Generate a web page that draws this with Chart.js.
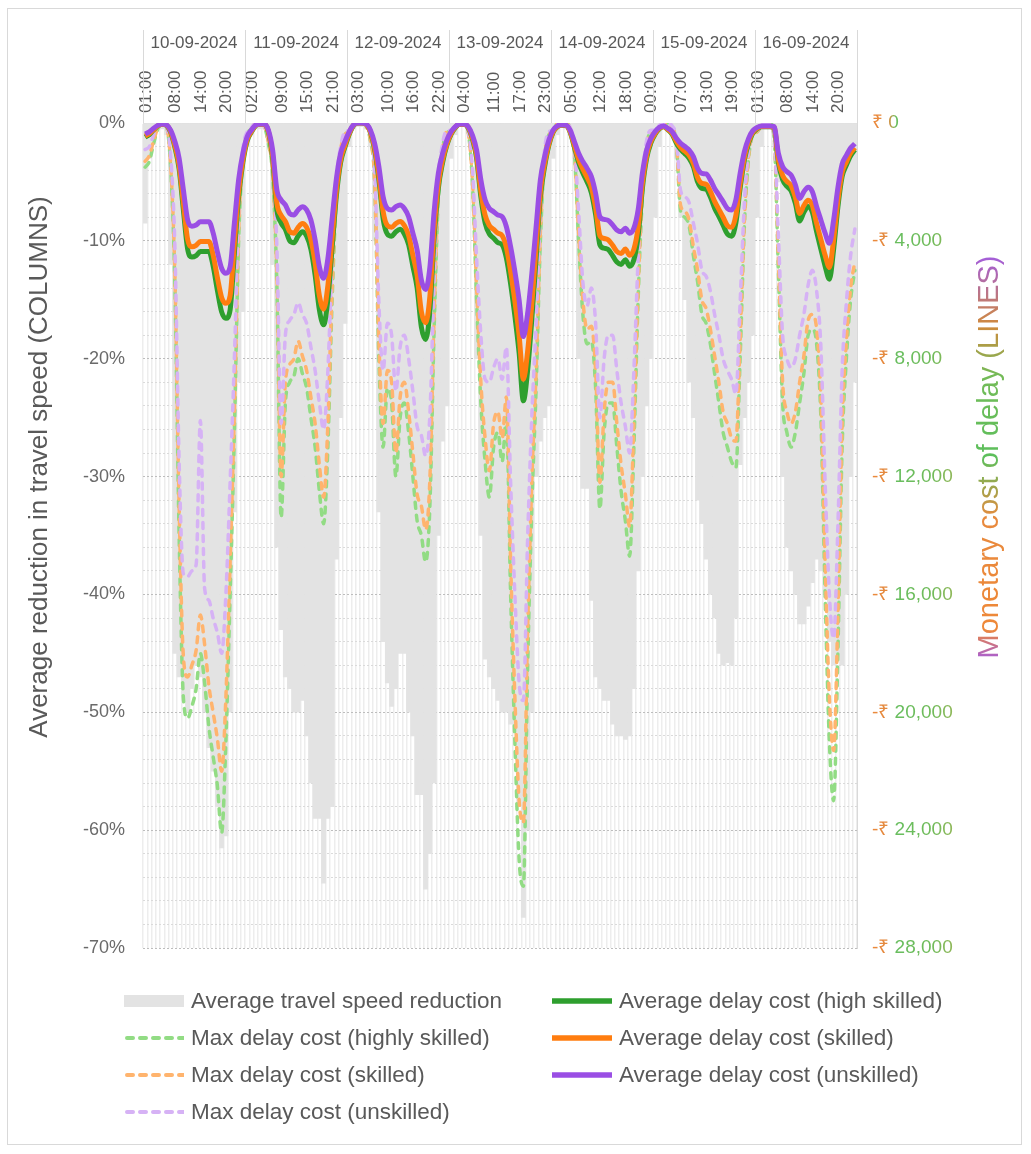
<!DOCTYPE html>
<html>
<head>
<meta charset="utf-8">
<script src="https://cdn.jsdelivr.net/npm/chart.js@4.4.1/dist/chart.umd.min.js"></script>
<style>
  body { margin: 0; background: #fff; }
  #wrap { position: relative; width: 1031px; height: 1154px; font-family: "Liberation Sans", Arial, sans-serif; }
  #frame { position: absolute; left: 7px; top: 8px; width: 1015px; height: 1137px; border: 1px solid #d9d9d9; box-sizing: border-box; }
  #myChart { position: absolute; left: 0; top: 0; }
  .item { position: absolute; display: flex; align-items: center; font-size: 22.5px; color: #595959; white-space: nowrap; height: 30px; }
  .item svg { margin-right: 7px; }
</style>
</head>
<body>
<div id="wrap">
  <div id="frame"></div>
  <canvas id="myChart" width="1031" height="1154"></canvas>
  <div id="legend"></div>
</div>
<script>
var days = ['10-09-2024', '11-09-2024', '12-09-2024', '13-09-2024', '14-09-2024', '15-09-2024', '16-09-2024'];
var hours = ['00:00', '01:00', '02:00', '03:00', '04:00', '05:00', '06:00', '07:00', '08:00', '09:00', '10:00', '11:00',
             '12:00', '13:00', '14:00', '15:00', '16:00', '17:00', '18:00', '19:00', '20:00', '21:00', '22:00', '23:00'];
// hours that get a label on the top axis, one list per day
var shownHours = [[1, 8, 14, 20], [2, 9, 15, 21], [3, 10, 16, 22], [4, 11, 17, 23], [5, 12, 18], [0, 7, 13, 19], [1, 8, 14, 20]];

// % reduction in travel speed (columns)
var speedReduction = [
  -8.5, -3, -1, -0.5, -0.5, -1, -12, -45, -47, -49, -50, -48, -46, -47, -50, -53, -55, -58, -61.5, -60.5, -50, -33, -22, -16,
  -2, -1, -0.5, -0.5, -0.5, -1.5, -12, -36, -43, -47, -48, -50, -50, -49, -52, -56, -59, -59, -64.5, -59, -58, -37, -25, -17,
  -2, -0.5, -0.3, -0.3, -0.5, -2, -10, -33, -44, -47.5, -49.5, -48, -45, -45, -50, -52, -57, -57, -65, -62, -56, -35, -27, -24,
  -3, -1, -0.3, -0.3, -0.5, -2, -20, -35, -45.5, -47, -48, -49, -50, -50, -51, -51.7, -58, -67.4, -60, -50, -30, -27, -25, -24,
  -3, -1, -0.3, -0.5, -1, -3, -20, -31, -31, -40.5, -47, -48, -49, -49, -51, -52, -52, -52.3, -52, -48, -38, -30, -24, -20,
  -8, -2, -0.5, -0.5, -1, -3, -8, -15, -22, -25, -32, -34, -37, -40, -42, -45, -46, -45.8, -46, -42, -29, -25, -22, -18,
  -8, -2, -0.5, -0.5, -1, -5, -30, -36, -38, -40, -42.5, -42.5, -41, -39, -37, -38, -40, -44, -46, -45, -46, -40, -30, -22
];

// monetary cost of delay in rupees (lines)
var avgHighSkilled = [
  -480, -390, -230, -100, -40, -80, -310, -820, -1560, -2950, -4280, -4550, -4500, -4360, -4360, -4360, -4850, -5680, -6410, -6630, -6340, -4420, -2510, -1340,
  -610, -310, -90, -40, -40, -310, -1200, -2950, -3390, -3610, -3990, -4060, -3840, -3690, -3840, -4280, -5160, -6340, -6850, -5980, -4230, -2470, -1340, -820,
  -390, -90, 0, 0, -40, -310, -900, -1920, -3250, -3770, -3840, -3690, -3610, -3770, -4130, -4860, -5600, -6930, -7350, -6370, -3900, -2210, -1340, -750,
  -380, -160, -40, -40, -160, -530, -1200, -2510, -3390, -3770, -3910, -4060, -4130, -4580, -5460, -6550, -7810, -9430, -8400, -6630, -4580, -2510, -1480, -750,
  -310, -130, -80, -90, -310, -820, -1340, -1700, -2000, -2370, -3110, -4130, -4250, -4300, -4500, -4720, -4800, -4640, -4860, -4640, -3840, -2220, -1200, -680,
  -380, -200, -130, -230, -380, -680, -900, -1040, -1200, -1480, -2000, -2220, -2250, -2510, -2890, -3170, -3470, -3770, -3840, -3390, -2220, -1260, -680, -340,
  -200, -130, -130, -130, -160, -1340, -1920, -2150, -2300, -2730, -3330, -3030, -2830, -3030, -3690, -4280, -4860, -5300, -4290, -2860, -1820, -1430, -1110, -910
];
var maxHighSkilled = [
  -1500, -1300, -700, -200, 0, -100, -1500, -5500, -14000, -19500, -20200, -19800, -19200, -18000, -19000, -20500, -21500, -22500, -24100, -21000, -16000, -10500, -4000, -1200,
  -400, -200, 0, 0, -100, -700, -1800, -5500, -13400, -9500, -8800, -8600, -8000, -8500, -9000, -10000, -11000, -12500, -13600, -11000, -6000, -2500, -1000, -400,
  -300, -100, 0, 0, -100, -600, -2000, -8000, -11000, -9000, -9500, -12000, -10000, -9500, -10500, -12000, -13500, -14000, -14900, -13000, -7000, -2500, -900, -300,
  -300, -100, 0, 0, -300, -2000, -6000, -9500, -11500, -12700, -11000, -10500, -11500, -10000, -16000, -21000, -25000, -25900, -18500, -13000, -9000, -4000, -1200, -400,
  -300, 0, 0, 0, -200, -1000, -4000, -6500, -7500, -7400, -9000, -13100, -10500, -9500, -9500, -11000, -12500, -13500, -14700, -11000, -6000, -2500, -800, -300,
  -300, -100, 0, 0, -150, -700, -3000, -3200, -3500, -4500, -5400, -6500, -6800, -7500, -8500, -9500, -10500, -11000, -11500, -11700, -8000, -3500, -1200, -400,
  -300, -100, 0, 0, -500, -5000, -9500, -10500, -11000, -10500, -9500, -8500, -7200, -7000, -7500, -10000, -16000, -21000, -23000, -18000, -11000, -8000, -6000, -5000
];
var avgSkilled = [
  -440, -360, -220, -100, -40, -70, -290, -760, -1440, -2720, -3950, -4200, -4150, -4020, -4020, -4020, -4480, -5240, -5920, -6120, -5860, -4080, -2320, -1240,
  -560, -290, -80, -40, -40, -290, -1100, -2720, -3130, -3340, -3680, -3740, -3540, -3410, -3540, -3950, -4760, -5860, -6320, -5520, -3900, -2280, -1240, -760,
  -360, -80, 0, 0, -40, -290, -830, -1780, -3000, -3480, -3540, -3410, -3340, -3480, -3820, -4490, -5170, -6400, -6780, -5880, -3600, -2040, -1240, -700,
  -350, -140, -40, -40, -140, -490, -1100, -2320, -3130, -3480, -3610, -3740, -3820, -4220, -5040, -6050, -7210, -8700, -7750, -6120, -4220, -2320, -1370, -700,
  -290, -120, -70, -80, -290, -760, -1240, -1570, -1850, -2180, -2870, -3820, -3920, -3970, -4150, -4360, -4430, -4280, -4490, -4280, -3540, -2050, -1100, -620,
  -350, -180, -120, -220, -350, -620, -830, -960, -1100, -1370, -1850, -2050, -2080, -2320, -2660, -2930, -3200, -3480, -3540, -3130, -2050, -1160, -620, -310,
  -180, -120, -120, -120, -140, -1240, -1780, -1980, -2120, -2520, -3070, -2800, -2620, -2800, -3410, -3950, -4490, -4900, -3960, -2640, -1680, -1320, -1020, -840
];
var maxSkilled = [
  -1300, -1100, -600, -150, 0, -100, -1400, -5100, -13000, -18100, -18800, -18400, -17900, -16700, -17700, -19100, -20000, -20900, -22000, -19500, -14900, -9800, -3700, -1100,
  -400, -200, 0, 0, -100, -650, -1700, -5100, -12000, -8800, -8200, -8000, -7400, -7900, -8400, -9300, -10200, -11600, -12700, -10200, -5600, -2300, -900, -400,
  -300, -100, 0, 0, -100, -550, -1900, -7400, -10200, -8400, -8800, -11200, -9300, -8800, -9800, -11200, -12600, -13000, -13800, -12100, -6500, -2300, -850, -300,
  -300, -100, 0, 0, -300, -1900, -5600, -8800, -10700, -11800, -10200, -9800, -10700, -9300, -14900, -19500, -23000, -23750, -17200, -12100, -8400, -3700, -1100, -400,
  -300, 0, 0, 0, -200, -900, -3700, -6000, -7000, -6900, -8400, -12200, -9800, -8800, -8800, -10200, -11600, -12600, -13700, -10200, -5600, -2300, -750, -300,
  -300, -100, 0, 0, -150, -650, -2800, -3000, -3300, -4200, -5000, -6000, -6300, -7000, -7900, -8800, -9800, -10200, -10700, -10800, -7400, -3300, -1100, -400,
  -300, -100, 0, 0, -450, -4600, -8800, -9800, -10200, -9800, -8800, -7900, -6700, -6500, -7000, -9300, -14900, -19500, -21300, -16700, -10200, -7400, -5600, -4700
];
var avgUnskilled = [
  -370, -300, -180, -80, -30, -60, -240, -630, -1200, -2270, -3290, -3500, -3460, -3350, -3350, -3350, -3730, -4370, -4930, -5100, -4880, -3400, -1930, -1030,
  -470, -240, -70, -30, -30, -240, -920, -2270, -2610, -2780, -3070, -3120, -2950, -2840, -2950, -3290, -3970, -4880, -5270, -4600, -3250, -1900, -1030, -630,
  -300, -70, 0, 0, -30, -240, -690, -1480, -2500, -2900, -2950, -2840, -2780, -2900, -3180, -3740, -4310, -5330, -5650, -4900, -3000, -1700, -1030, -580,
  -290, -120, -30, -30, -120, -410, -920, -1930, -2610, -2900, -3010, -3120, -3180, -3520, -4200, -5040, -6010, -7250, -6460, -5100, -3520, -1930, -1140, -580,
  -240, -100, -60, -70, -240, -630, -1030, -1310, -1540, -1820, -2390, -3180, -3270, -3310, -3460, -3630, -3690, -3570, -3740, -3570, -2950, -1710, -920, -520,
  -290, -150, -100, -180, -290, -520, -690, -800, -920, -1140, -1540, -1710, -1730, -1930, -2220, -2440, -2670, -2900, -2950, -2610, -1710, -970, -520, -260,
  -150, -100, -100, -100, -120, -1030, -1480, -1650, -1770, -2100, -2560, -2330, -2180, -2330, -2840, -3290, -3740, -4080, -3300, -2200, -1400, -1100, -850, -700
];
var maxUnskilled = [
  -900, -800, -400, -100, 0, -100, -1100, -4200, -11500, -15300, -15400, -15200, -15000, -10100, -15800, -16200, -16800, -17300, -18000, -16000, -12200, -8000, -3000, -900,
  -300, -150, 0, 0, -100, -500, -1400, -4200, -10200, -7200, -6700, -6500, -6100, -6500, -6800, -7600, -8400, -9500, -10400, -8400, -4600, -1900, -800, -300,
  -250, -80, 0, 0, -80, -450, -1500, -6100, -8400, -6800, -7200, -9100, -7600, -7200, -8000, -9100, -10300, -10600, -11300, -9900, -5300, -1900, -700, -250,
  -250, -80, 0, 0, -250, -1500, -4600, -7200, -8700, -8800, -8300, -8000, -8700, -7600, -12200, -16000, -19000, -19600, -14100, -9900, -6800, -3000, -900, -300,
  -250, 0, 0, 0, -150, -750, -3000, -5400, -6200, -5600, -6800, -10000, -8000, -7200, -7200, -8400, -9500, -10300, -11200, -8400, -4600, -1900, -600, -250,
  -250, -80, 0, 0, -100, -500, -2300, -2500, -2700, -3400, -4100, -5000, -5200, -5700, -6500, -7200, -8000, -8400, -8700, -9200, -6100, -2700, -900, -300,
  -250, -80, 0, 0, -400, -3800, -7200, -8000, -8300, -8000, -7200, -6500, -5500, -5000, -5700, -7600, -12200, -16000, -17500, -13700, -8400, -6100, -4500, -3600
];

var leftTitle = 'Average reduction in travel speed (COLUMNS)';
var rightTitle = 'Monetary cost of delay (LINES)';

var labels = [];
days.forEach(function (d) {
  hours.forEach(function (h) { labels.push(d + ' ' + h); });
});

Chart.defaults.font.family = '"Liberation Sans", Arial, sans-serif';

var ctx = document.getElementById('myChart').getContext('2d');

// secondary axis text is a blend of the line colours; tick text is drawn from its own origin
var tickGrad = ctx.createLinearGradient(0, 0, 80, 0);
tickGrad.addColorStop(0, '#ec8a3c');
tickGrad.addColorStop(0.2, '#e2893f');
tickGrad.addColorStop(0.3, '#68be5f');
tickGrad.addColorStop(0.75, '#70bb5a');
tickGrad.addColorStop(1, '#8fb85a');

var headerAndTitles = {
  id: 'headerAndTitles',
  afterDraw: function (chart) {
    var c = chart.ctx, a = chart.chartArea, top = chart.scales.x2.top;
    c.save();
    c.strokeStyle = '#d9d9d9';
    c.lineWidth = 1;
    for (var d = 0; d <= days.length; d++) {
      var px = Math.round(a.left + (a.right - a.left) * d / days.length) + 0.5;
      c.beginPath();
      c.moveTo(px, top);
      c.lineTo(px, a.top);
      c.stroke();
    }
    c.textAlign = 'center';
    c.textBaseline = 'middle';

    c.save();
    c.translate(40, 467);
    c.rotate(-Math.PI / 2);
    c.font = '26px "Liberation Sans", Arial, sans-serif';
    c.fillStyle = '#595959';
    c.fillText(leftTitle, 0, 0);
    c.restore();

    c.save();
    c.translate(990, 457);
    c.rotate(-Math.PI / 2);
    c.font = '29px "Liberation Sans", Arial, sans-serif';
    var g = c.createLinearGradient(-205, 0, 205, 0);
    g.addColorStop(0, '#a05ae6');
    g.addColorStop(0.08, '#ee8838');
    g.addColorStop(0.35, '#e88a3e');
    g.addColorStop(0.5, '#5cbf5c');
    g.addColorStop(0.7, '#74bb58');
    g.addColorStop(0.82, '#d08a3c');
    g.addColorStop(1, '#a05ae6');
    c.fillStyle = g;
    c.fillText(rightTitle, 0, 0);
    c.restore();

    c.restore();
  }
};

var chart = new Chart(ctx, {
  type: 'bar',
  data: {
    labels: labels,
    datasets: [{
      label: 'Average travel speed reduction',
      data: speedReduction,
      yAxisID: 'y',
      backgroundColor: '#e3e3e3',
      borderWidth: 0,
      barPercentage: 1,
      categoryPercentage: 1,
      order: 6
    }, {
      type: 'line',
      label: 'Average delay cost (high skilled)',
      data: avgHighSkilled,
      yAxisID: 'y2',
      borderColor: '#2e9f2e',
      borderWidth: 5,
      order: 2
    }, {
      type: 'line',
      label: 'Max delay cost (highly skilled)',
      data: maxHighSkilled,
      yAxisID: 'y2',
      borderColor: '#92dc84',
      borderWidth: 3.5,
      borderDash: [6, 7],
      borderCapStyle: 'round',
      order: 5
    }, {
      type: 'line',
      label: 'Average delay cost (skilled)',
      data: avgSkilled,
      yAxisID: 'y2',
      borderColor: '#ff7d0f',
      borderWidth: 5,
      order: 1
    }, {
      type: 'line',
      label: 'Max delay cost (skilled)',
      data: maxSkilled,
      yAxisID: 'y2',
      borderColor: '#ffb46e',
      borderWidth: 3.5,
      borderDash: [6, 7],
      borderCapStyle: 'round',
      order: 4
    }, {
      type: 'line',
      label: 'Average delay cost (unskilled)',
      data: avgUnskilled,
      yAxisID: 'y2',
      borderColor: '#9a4ee4',
      borderWidth: 5,
      order: 0
    }, {
      type: 'line',
      label: 'Max delay cost (unskilled)',
      data: maxUnskilled,
      yAxisID: 'y2',
      borderColor: '#d6b2f5',
      borderWidth: 3.5,
      borderDash: [6, 7],
      borderCapStyle: 'round',
      order: 3
    }]
  },
  options: {
    responsive: false,
    animation: false,
    layout: { padding: { top: 30, bottom: 206, left: 0, right: 0 } },
    elements: {
      point: { radius: 0 },
      line: { cubicInterpolationMode: 'monotone', borderJoinStyle: 'round' }
    },
    plugins: {
      legend: { display: false },
      tooltip: { enabled: false }
    },
    scales: {
      x: {
        position: 'top',
        offset: true,
        grid: { color: '#ededed', lineWidth: 1.5, drawTicks: false },
        border: { color: '#d9d9d9' },
        ticks: {
          autoSkip: false,
          minRotation: 90,
          maxRotation: 90,
          padding: 10,
          labelOffset: 17,
          color: '#595959',
          font: { size: 17 },
          callback: function (value, index) {
            var d = Math.floor(index / 24), h = index % 24;
            return shownHours[d].indexOf(h) >= 0 ? hours[h] : '';
          }
        },
        afterFit: function (s) { s.height = 66; }
      },
      x2: {
        type: 'category',
        position: 'top',
        labels: days,
        offset: true,
        weight: 1,
        grid: { display: false },
        border: { display: false },
        ticks: { color: '#595959', font: { size: 17 }, padding: -5 },
        afterFit: function (s) { s.height = 27; }
      },
      y: {
        position: 'left',
        min: -70,
        max: 0,
        ticks: {
          stepSize: 2,
          autoSkip: false,
          padding: 18,
          color: '#6a6a6a',
          font: { size: 18 },
          callback: function (v) { return v % 10 === 0 ? v + '%' : ''; }
        },
        grid: {
          drawTicks: false,
          color: function (c) { return c.tick && c.tick.value % 10 === 0 ? '#bdbdbd' : '#dadada'; }
        },
        border: { display: false, dash: [2, 2] },
        afterFit: function (s) { s.width = 143; }
      },
      y2: {
        position: 'right',
        min: -28000,
        max: 0,
        ticks: {
          stepSize: 4000,
          padding: 15,
          color: tickGrad,
          font: { size: 19 },
          callback: function (v) {
            return v === 0 ? '\u20b9 0' : '-\u20b9 ' + Math.abs(v).toLocaleString('en-US');
          }
        },
        grid: { drawOnChartArea: false, drawTicks: false },
        border: { color: '#d9d9d9' },
        afterFit: function (s) { s.width = 174; }
      }
    }
  },
  plugins: [headerAndTitles]
});

// legend in two columns, filled row by row like the original
var legendCols = [124, 552];
var legendRows = [1001, 1038, 1075, 1112];
var legendBox = document.getElementById('legend');
chart.data.datasets.forEach(function (ds, i) {
  var item = document.createElement('div');
  item.className = 'item';
  item.style.left = legendCols[i % 2] + 'px';
  item.style.top = (legendRows[Math.floor(i / 2)] - 15) + 'px';
  var sw;
  if (ds.type === 'line') {
    var dash = ds.borderDash ? ' stroke-dasharray="6 7" stroke-linecap="round"' : '';
    sw = '<svg width="60" height="12"><line x1="' + (ds.borderDash ? 3 : 0) + '" y1="6" x2="60" y2="6" stroke="' +
      ds.borderColor + '" stroke-width="' + (ds.borderDash ? 4 : 5.5) + '"' + dash + '/></svg>';
  } else {
    sw = '<svg width="60" height="14"><rect x="0" y="1" width="60" height="12" fill="' + ds.backgroundColor + '"/></svg>';
  }
  item.innerHTML = sw + '<span>' + ds.label + '</span>';
  legendBox.appendChild(item);
});
</script>
</body>
</html>
